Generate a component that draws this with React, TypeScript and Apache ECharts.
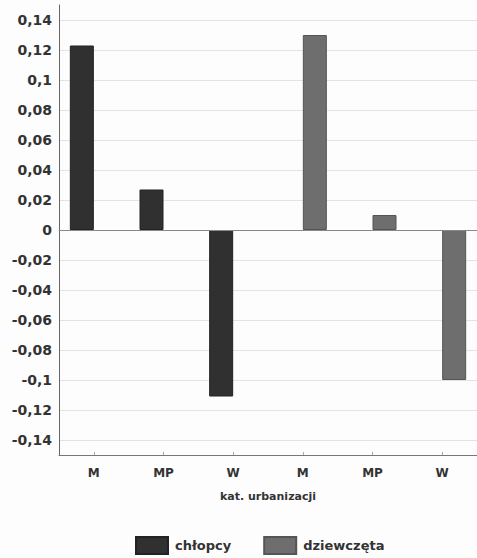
import React, { useEffect, useRef } from "react";
import * as echarts from "echarts";

const categories = ["M", "MP", "W", "M", "MP", "W"];
const chlopcy = [0.123, 0.027, -0.111, null, null, null];
const dziewczeta = [null, null, null, 0.13, 0.01, -0.1];
const seriesNames = ["chłopcy", "dziewczęta"];
const axisName = "kat. urbanizacji";

const FONT = "DejaVu Sans";

export default function App() {
  const ref = useRef<HTMLDivElement>(null);
  useEffect(() => {
    if (!ref.current) return;
    const chart = echarts.init(ref.current, null, { renderer: "svg" });
    chart.setOption({
      animation: false,
      backgroundColor: "#fdfdfd",
      textStyle: { fontFamily: FONT },
      grid: { left: 59, top: 5, bottom: 103, width: 420 },
      legend: {
        left: 130,
        top: 531,
        itemWidth: 32,
        itemHeight: 17,
        itemGap: 32,
        icon: "rect",
        textStyle: { fontFamily: FONT, fontWeight: "bold", fontSize: 13, color: "#333", padding: [0, 0, 0, 2] },
        data: seriesNames,
      },
      xAxis: [
        {
          type: "category",
          data: categories,
          position: "bottom",
          axisLine: { onZero: false, lineStyle: { color: "#777", width: 1 } },
          axisTick: { show: true, alignWithLabel: true, inside: true, length: 3, lineStyle: { color: "#aaa" } },
          axisLabel: { fontFamily: FONT, fontWeight: "bold", fontSize: 12, color: "#333", margin: 12 },
          name: axisName,
          nameLocation: "middle",
          nameGap: 36,
          nameTextStyle: { fontFamily: FONT, fontWeight: "bold", fontSize: 11, color: "#333" },
        },
        {
          type: "category",
          data: categories,
          position: "top",
          axisLine: { show: true, lineStyle: { color: "#999", width: 1 } },
          axisTick: { show: false },
          axisLabel: { show: false },
        },
      ],
      yAxis: {
        type: "value",
        min: -0.15,
        max: 0.15,
        interval: 0.01,
        axisLine: { show: true, lineStyle: { color: "#666" } },
        axisTick: { show: false },
        axisLabel: {
          fontFamily: FONT,
          fontWeight: "bold",
          fontSize: 14,
          color: "#333",
          margin: 7,
          formatter: (v: number) => {
            const c = Math.round(v * 100);
            if (c % 2 !== 0) return "";
            return String(c / 100).replace(".", ",");
          },
        },
        splitLine: { show: true, lineStyle: { color: ["rgba(0,0,0,0)", "#e3e3e3"], width: 1 } },
      },
      series: [
        {
          name: seriesNames[0],
          type: "bar",
          data: chlopcy,
          barWidth: 24,
          barGap: "0%",
          itemStyle: { color: "#303030", borderColor: "#222", borderWidth: 1 },
          markLine: {
            silent: true,
            symbol: "none",
            label: { show: false },
            lineStyle: { color: "#888", type: "solid", width: 1 },
            data: [{ yAxis: 0 }],
          },
        },
        {
          name: seriesNames[1],
          type: "bar",
          data: dziewczeta,
          barWidth: 24,
          barGap: "0%",
          itemStyle: { color: "#6e6e6e", borderColor: "#555", borderWidth: 1 },
        },
      ],
    });
    return () => chart.dispose();
  }, []);
  return <div ref={ref} style={{ width: 477, height: 558, position: "absolute", left: 0, top: 0 }} />;
}
